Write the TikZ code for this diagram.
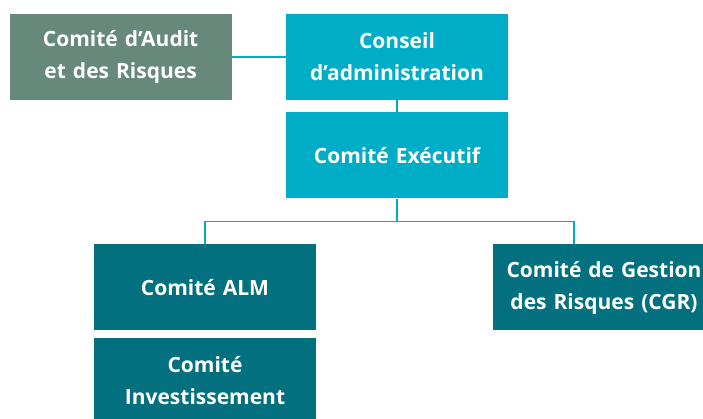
\documentclass[tikz,border=0pt]{standalone}
\usepackage{fontspec}
\setmainfont{Open Sans}
\usetikzlibrary{positioning}

\definecolor{auditgreen}{HTML}{66897C}
\definecolor{boardcyan}{HTML}{00ADC6}
\definecolor{comteal}{HTML}{02707E}

\begin{document}
\begin{tikzpicture}[
    x=1pt, y=1pt,
    node distance=12pt,
    orgbox/.style={rectangle, minimum width=222pt, minimum height=86pt, text width=218pt, align=center, text=white, font=\bfseries\fontsize{21}{32}\selectfont, inner sep=0pt},
    board/.style={orgbox, fill=boardcyan},
    audit/.style={orgbox, fill=auditgreen},
    committee/.style={orgbox, fill=comteal},
    link/.style={draw=boardcyan, line width=1.6pt}
]
\useasboundingbox (0,0) rectangle (703,419);

% direction
\node[board] (conseil) at (397,362) {Conseil\\d'administration};
\node[board, below=of conseil] (executif) {Comité Exécutif};

% audit
\node[audit, left=54pt of conseil] (audit) {Comité d'Audit\\et des Risques};

% comites
\node[committee] (alm) at (205,131.5) {Comité ALM};
\node[committee, below=7pt of alm] (invest) {Comité\\Investissement};
\node[committee] (cgr) at (604,131.5) {Comité de Gestion\\des Risques (CGR)};

% liaisons
\coordinate[below=23pt of executif.south] (bus);
\coordinate (cgrtop) at ([xshift=-30pt]cgr.north);
\draw[link] (audit) -- (conseil);
\draw[link] (conseil) -- (executif);
\draw[link] (executif.south) -- (bus) -| (alm.north);
\draw[link] (bus) -| (cgrtop);
\end{tikzpicture}
\end{document}
